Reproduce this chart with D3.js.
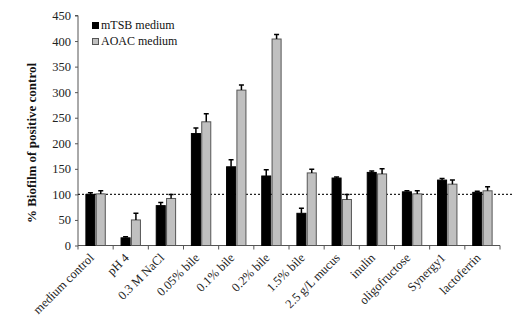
<!DOCTYPE html>
<html><head><meta charset="utf-8">
<script src="https://cdn.jsdelivr.net/npm/d3@7"></script>
<style>body{margin:0;background:#fff}svg{display:block}text{font-family:"Liberation Serif","Times New Roman",serif}</style>
</head><body><svg id="c" width="517" height="329"></svg>
<script>
const categories = ["medium control","pH 4","0.3 M NaCl","0.05% bile","0.1% bile","0.2% bile","1.5% bile","2.5 g/L mucus","inulin","oligofructose","Synergy1","lactoferrin"];
const seriesNames = ["mTSB medium","AOAC medium"];
const mtsbValues = [100,15,78,219,154,136,63,132,143,105,128,104];
const mtsbErrors = [3,2,6,11,14,12,10,2,3,2,3,2];
const aoacValues = [101,50,92,242,304,404,142,90,140,101,120,107];
const aoacErrors = [6,13,8,16,10,9,7,10,10,6,8,8];
const yTicks = [0,50,100,150,200,250,300,350,400,450];
const colors = ["#000000","#c0c0c0"];
const strokes = ["#000000","#555555"];

const svg = d3.select("#c");
const m = {l:78, r:17, t:15.5, b:83.5};
const W = 517, H = 329;
const x0 = d3.scaleBand().domain(categories).range([m.l, W-m.r]).paddingInner(0).paddingOuter(0);
const x1 = d3.scaleBand().domain(seriesNames).range([0, 21]).padding(0.03);
const y = d3.scaleLinear().domain([0,450]).range([H-m.b, m.t]);

// y axis
const ya = svg.append("g").attr("transform",`translate(${m.l},0)`)
  .call(d3.axisLeft(y).tickValues(yTicks).tickSize(3).tickPadding(4));
ya.attr("font-family",null).attr("font-size",null);
ya.select(".domain").attr("stroke","#555").attr("d",`M-3,${y(450)}H0V${y(0)}`);
ya.selectAll(".tick line").attr("stroke","#555");
ya.selectAll("text").attr("font-size","12.5px").attr("fill","#222");

// x axis with ticks at boundaries
const xa = svg.append("g").attr("transform",`translate(0,${y(0)})`);
xa.append("line").attr("x1",m.l).attr("x2",W-m.r).attr("stroke","#555");
const bounds = categories.map(c=>x0(c)).concat([x0(categories[categories.length-1])+x0.bandwidth()]);
xa.selectAll("line.t").data(bounds).join("line").attr("class","t")
  .attr("x1",d=>d).attr("x2",d=>d).attr("y1",0).attr("y2",4).attr("stroke","#555");
xa.selectAll("text").data(categories).join("text")
  .attr("transform",d=>`translate(${x0(d)+x0.bandwidth()/2-1},${13}) rotate(-45)`)
  .attr("text-anchor","end").attr("font-size","12.5px").attr("fill","#222").text(d=>d);

// reference line at 100
svg.append("line").attr("x1",m.l).attr("x2",512).attr("y1",y(100)).attr("y2",y(100))
  .attr("stroke","#222").attr("stroke-width",1.3).attr("stroke-dasharray","2,2");

// bars
const data = categories.map((c,i)=>({c, vals:[
  {s:0,v:mtsbValues[i],e:mtsbErrors[i]},
  {s:1,v:aoacValues[i],e:aoacErrors[i]}]}));
const gcat = svg.selectAll("g.cat").data(data).join("g").attr("class","cat")
  .attr("transform",d=>`translate(${x0(d.c)+x0.bandwidth()/2-10.5},0)`);
gcat.selectAll("rect").data(d=>d.vals).join("rect")
  .attr("x",d=>x1(seriesNames[d.s])+0.5).attr("width",x1.bandwidth()-1)
  .attr("y",d=>y(d.v)).attr("height",d=>y(0)-y(d.v))
  .attr("fill",d=>colors[d.s]).attr("stroke",d=>strokes[d.s]).attr("stroke-width",1);
gcat.selectAll("path.err").data(d=>d.vals).join("path").attr("class","err")
  .attr("d",d=>{const cx=x1(seriesNames[d.s])+x1.bandwidth()/2; return `M${cx},${y(d.v)}V${y(d.v+d.e)}M${cx-2.5},${y(d.v+d.e)}H${cx+2.5}`;})
  .attr("stroke","#000").attr("stroke-width",1.5).attr("fill","none");

// y label
svg.append("text").attr("transform",`translate(36,${143}) rotate(-90)`)
  .attr("text-anchor","middle").attr("font-size","13px").attr("font-weight","bold").attr("fill","#111")
  .text("% Biofilm of positive control");

// legend
const lg = svg.append("g").attr("transform","translate(92,21)");
seriesNames.forEach((s,i)=>{
  lg.append("rect").attr("x",0.5).attr("y",i*16+1.5).attr("width",6).attr("height",6)
    .attr("fill",colors[i]).attr("stroke",strokes[i]);
  lg.append("text").attr("x",9).attr("y",i*16+8).attr("font-size","12px").attr("fill","#111").text(s);
});
</script></body></html>
